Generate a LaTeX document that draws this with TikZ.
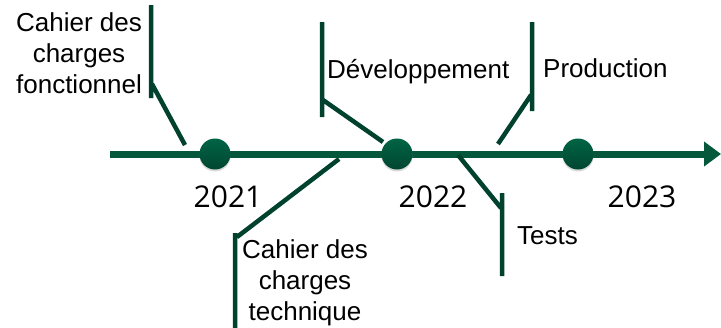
\documentclass[tikz,border=0pt]{standalone}
\usepackage{fontspec}
\setmainfont{Liberation Sans}
\newfontfamily\yearfont{Open Sans}
\usetikzlibrary{arrows.meta,positioning,shadows}
\definecolor{axisgreen}{RGB}{6,88,60}
\definecolor{stemgreen}{RGB}{0,66,45}
\definecolor{dotgreen}{RGB}{0,100,68}
\begin{document}
\begin{tikzpicture}[x=1pt,y=-1pt,
    year/.style={font=\yearfont\fontsize{30}{36}\selectfont,inner sep=0pt},
    phase/.style={font=\fontsize{26}{31}\selectfont,align=center,inner sep=0pt},
    milestone/.style={circle,minimum size=31pt,inner sep=0pt,top color=dotgreen,bottom color=dotgreen!70!black,
        drop shadow={opacity=0.3,shadow xshift=0pt,shadow yshift=-2pt}},
    stem/.style={draw=stemgreen,line width=4.5pt}]
    \useasboundingbox (0,0) rectangle (721,327);
    \coordinate (start) at (110,154);
    \coordinate (end) at (721,154);
    \draw[axisgreen,line width=7pt,-{Triangle[length=17pt,width=24pt]}] (start) -- (end);
    \node [milestone] (m2021) at (215,154) {};
    \node [milestone] (m2022) at (397,154) {};
    \node [milestone] (m2023) at (578,154) {};
    \node [year] (y2021) at (228,197) {2021};
    \node [year] (y2022) at (433,197) {2022};
    \node [year] (y2023) at (642,197) {2023};
    \node [phase,anchor=north] (fonc) at (79,12) {Cahier des\\charges\\fonctionnel};
    \node [phase,anchor=base west] (dev) at (327,78) {Développement};
    \node [phase,anchor=base west] (prod) at (543,77) {Production};
    \node [phase,anchor=north] (tech) at (305,239) {Cahier des\\charges\\technique};
    \node [phase,anchor=base west] (tests) at (517,244) {Tests};
    \coordinate (fonc-a) at (151,5);   \coordinate (fonc-b) at (151,98);
    \coordinate (fonc-c) at (152,84);  \coordinate (fonc-d) at (185,145);
    \coordinate (dev-a) at (322,22);   \coordinate (dev-b) at (322,117);
    \coordinate (dev-c) at (323,100);  \coordinate (dev-d) at (383,142);
    \coordinate (prod-a) at (532,22);  \coordinate (prod-b) at (532,111);
    \coordinate (prod-c) at (531,95);  \coordinate (prod-d) at (498,144);
    \coordinate (tech-a) at (235,233); \coordinate (tech-b) at (235,330);
    \coordinate (tech-c) at (237,237); \coordinate (tech-d) at (339,159);
    \coordinate (tests-a) at (502,193); \coordinate (tests-b) at (502,276);
    \coordinate (tests-c) at (501,208); \coordinate (tests-d) at (458,155);
    \draw [stem] (fonc-a) -- (fonc-b) (fonc-c) -- (fonc-d);
    \draw [stem] (dev-a) -- (dev-b) (dev-c) -- (dev-d);
    \draw [stem] (prod-a) -- (prod-b) (prod-c) -- (prod-d);
    \draw [stem] (tech-a) -- (tech-b) (tech-c) -- (tech-d);
    \draw [stem] (tests-a) -- (tests-b) (tests-c) -- (tests-d);
\end{tikzpicture}
\end{document}
